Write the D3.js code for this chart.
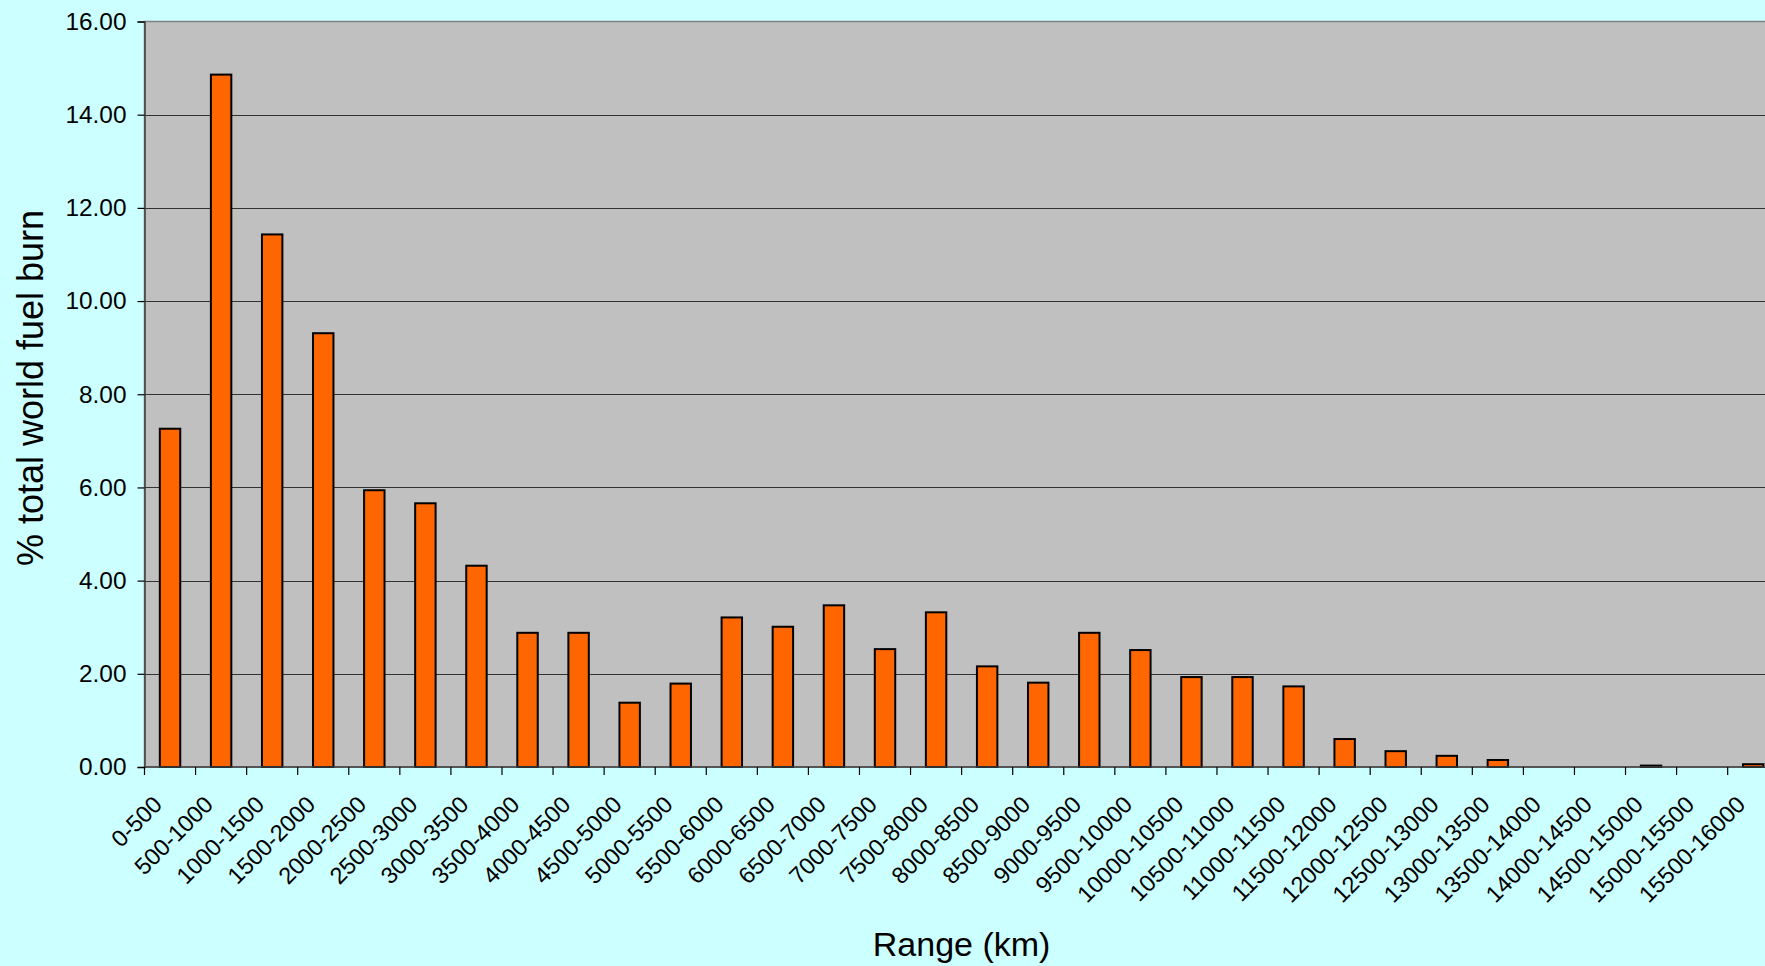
<!DOCTYPE html>
<html>
<head>
<meta charset="utf-8">
<script src="https://cdn.jsdelivr.net/npm/d3@7"></script>
<style>
  html, body { margin: 0; padding: 0; background: #CCFFFF; overflow: hidden; }
  svg { display: block; }
  text { font-family: "Liberation Sans", Arial, Helvetica, sans-serif; fill: #000; }
</style>
</head>
<body>
<svg id="chart" width="1765" height="966"></svg>
<script>
const categories = ["0-500","500-1000","1000-1500","1500-2000","2000-2500","2500-3000","3000-3500","3500-4000","4000-4500","4500-5000","5000-5500","5500-6000","6000-6500","6500-7000","7000-7500","7500-8000","8000-8500","8500-9000","9000-9500","9500-10000","10000-10500","10500-11000","11000-11500","11500-12000","12000-12500","12500-13000","13000-13500","13500-14000","14000-14500","14500-15000","15000-15500","15500-16000"];
const values = [7.26,14.86,11.43,9.31,5.94,5.66,4.32,2.88,2.88,1.38,1.79,3.21,3.01,3.47,2.53,3.32,2.16,1.81,2.88,2.51,1.93,1.93,1.73,0.60,0.34,0.24,0.15,0,0,0.03,0,0.06];
const yTicks = [0,2,4,6,8,10,12,14,16];
const xTitle = "Range (km)";
const yTitle = "% total world fuel burn";

(function () {
const plotL = 144.5, plotT = 21.5, plotB = 767, step = 51.07;
const plotR = plotL + step * categories.length;

const svg = d3.select("#chart");

const x = d3.scaleBand().domain(categories).range([plotL, plotR]).padding(0);
const xb = d3.scaleBand().domain(categories).range([plotL, plotR]).paddingInner(0.6).paddingOuter(0.3);
const y = d3.scaleLinear().domain([0, 16]).range([plotB, plotT]);

// plot area
svg.append("rect").attr("x", plotL).attr("y", plotT)
  .attr("width", plotR - plotL).attr("height", plotB - plotT)
  .attr("fill", "#C0C0C0").attr("stroke", "#808080").attr("stroke-width", 1.5);

// gridlines
svg.append("g").selectAll("line").data(yTicks.filter(d => d > 0 && d < 16)).join("line")
  .attr("x1", plotL).attr("x2", plotR)
  .attr("y1", d => Math.round(y(d)) + 0.5).attr("y2", d => Math.round(y(d)) + 0.5)
  .attr("stroke", "#333").attr("stroke-width", 1.2);

// bars
svg.append("g").selectAll("rect").data(values).join("rect")
  .attr("x", (d, i) => xb(categories[i]))
  .attr("width", xb.bandwidth())
  .attr("y", d => y(d))
  .attr("height", d => y(0) - y(d))
  .attr("fill", "#FF6600")
  .attr("stroke", "#000").attr("stroke-width", d => d > 0 ? 2 : 0);

// y axis
const yAxis = svg.append("g").attr("transform", `translate(${plotL},0)`)
  .call(d3.axisLeft(y).tickValues(yTicks).tickFormat(d3.format(".2f")).tickSize(7).tickPadding(11));
yAxis.select(".domain").attr("stroke", "#404040").attr("stroke-width", 1.5);
yAxis.selectAll(".tick line").attr("stroke", "#000").attr("stroke-width", 1.2);
yAxis.selectAll(".tick text").attr("font-size", 24.4).attr("font-family", "Liberation Sans, Arial, sans-serif");

// x axis line + ticks at band boundaries
svg.append("line").attr("x1", plotL).attr("x2", plotR).attr("y1", plotB).attr("y2", plotB)
  .attr("stroke", "#404040").attr("stroke-width", 1.5);
const boundaries = categories.map(c => x(c)).concat([plotR]);
svg.append("g").selectAll("line").data(boundaries).join("line")
  .attr("x1", d => d).attr("x2", d => d)
  .attr("y1", plotB).attr("y2", plotB + 8)
  .attr("stroke", "#000").attr("stroke-width", 1.2);

// x labels
svg.append("g").selectAll("text").data(categories).join("text")
  .attr("transform", c => `translate(${x(c) + x.bandwidth() / 2 - 6.5},${plotB + 39}) rotate(-45)`)
  .attr("text-anchor", "end")
  .attr("font-size", 23.5)
  .text(c => c);

// titles
svg.append("text").attr("x", (plotL + plotR) / 2).attr("y", 956)
  .attr("text-anchor", "middle").attr("font-size", 34).text(xTitle);
svg.append("text").attr("transform", "translate(43,388) rotate(-90)")
  .attr("text-anchor", "middle").attr("font-size", 36).text(yTitle);
})();
</script>
</body>
</html>
